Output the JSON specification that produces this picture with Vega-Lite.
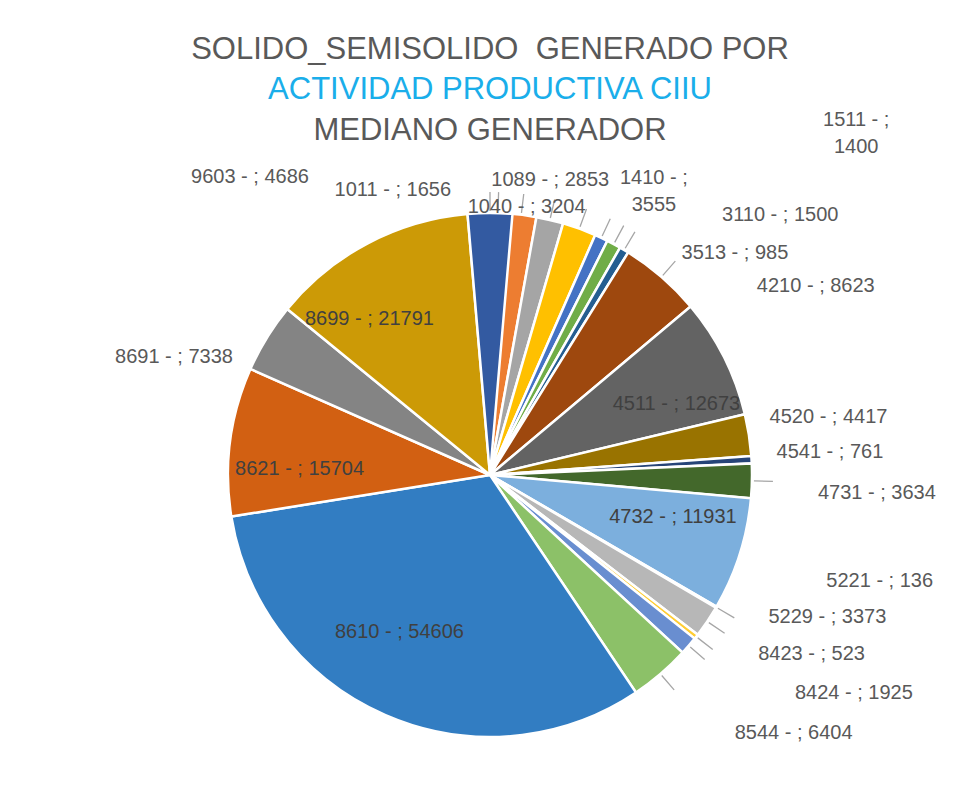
{
  "$schema": "https://vega.github.io/schema/vega-lite/v6.json",
  "background": "white",
  "padding": {"left": 20, "top": 34, "right": 3, "bottom": 0},
  "title": {
    "text": "SOLIDO_SEMISOLIDO\u00a0 GENERADO POR",
    "subtitle": "ACTIVIDAD PRODUCTIVA CIIU",
    "font": "Liberation Sans",
    "fontSize": 31,
    "fontWeight": "normal",
    "color": "#595959",
    "subtitleFont": "Liberation Sans",
    "subtitleFontSize": 31,
    "subtitleFontWeight": "normal",
    "subtitleColor": "#1AAEEA",
    "subtitlePadding": 9,
    "anchor": "middle",
    "offset": 4
  },
  "vconcat": [
    {
      "width": 940,
      "height": 600,
      "title": {
        "text": "MEDIANO GENERADOR",
        "font": "Liberation Sans",
        "fontSize": 31,
        "fontWeight": "normal",
        "color": "#595959",
        "anchor": "middle",
        "offset": -37
      },
      "data": {
        "values": [
          {"code": "1011", "value": 1656},
          {"code": "1040", "value": 3204},
          {"code": "1089", "value": 2853},
          {"code": "1410", "value": 3555},
          {"code": "1511", "value": 1400},
          {"code": "3110", "value": 1500},
          {"code": "3513", "value": 985},
          {"code": "4210", "value": 8623},
          {"code": "4511", "value": 12673},
          {"code": "4520", "value": 4417},
          {"code": "4541", "value": 761},
          {"code": "4731", "value": 3634},
          {"code": "4732", "value": 11931},
          {"code": "5221", "value": 136},
          {"code": "5229", "value": 3373},
          {"code": "8423", "value": 523},
          {"code": "8424", "value": 1925},
          {"code": "8544", "value": 6404},
          {"code": "8610", "value": 54606},
          {"code": "8621", "value": 15704},
          {"code": "8691", "value": 7338},
          {"code": "8699", "value": 21791},
          {"code": "9603", "value": 4686}
        ]
      },
      "transform": [
        {"stack": "value", "groupby": [], "sort": [{"field": "code", "order": "ascending"}], "as": ["v0", "v1"]},
        {"calculate": "(datum.v0 + datum.v1) / 2", "as": "mid"},
        {"calculate": "datum.code + ' - ; ' + datum.value", "as": "lbl"},
        {"calculate": "[datum.code + ' - ;', '' + datum.value]", "as": "lbl2"}
      ],
      "layer": [
        {
          "mark": {"type": "arc", "outerRadius": 262, "stroke": "white", "strokeWidth": 2.5},
          "encoding": {
            "theta": {"field": "v0", "type": "quantitative", "stack": null, "scale": {"zero": true, "nice": false}},
            "theta2": {"field": "v1"},
            "color": {
              "field": "code",
              "type": "nominal",
              "legend": null,
              "scale": {
                "domain": ["1011","1040","1089","1410","1511","3110","3513","4210","4511","4520","4541","4731","4732","5221","5229","8423","8424","8544","8610","8621","8691","8699","9603"],
                "range": ["#5B9BD5","#ED7D31","#A5A5A5","#FFC000","#4472C4","#70AD47","#255E91","#9E480E","#636363","#997300","#264478","#43682B","#7CAFDD","#F1975A","#B7B7B7","#FFCD33","#698ED0","#8CC168","#327DC2","#D26012","#848484","#CC9A06","#335AA1"]
              }
            }
          }
        },
        {
          "transform": [{"filter": {"field": "code", "oneOf": ["9603","1011","1040","1089","1410","1511","3110","3513","4210","4731","5221","5229","8423","8424","8544"]}}],
          "mark": {"type": "arc", "innerRadius": 264, "outerRadius": 283, "filled": false, "stroke": "#A6A6A6", "strokeWidth": 1.3},
          "encoding": {
            "theta": {"field": "mid", "type": "quantitative", "stack": null},
            "theta2": {"field": "mid"}
          }
        },
        {
          "transform": [{"filter": {"field": "code", "equal": "8699"}}],
          "mark": {"type": "text", "radius": 192, "align": "center", "baseline": "middle", "fill": "#404040", "dx": -31, "dy": 14},
          "encoding": {"theta": {"field": "mid", "type": "quantitative", "stack": null}, "text": {"field": "lbl"}}
        },
        {
          "transform": [{"filter": {"field": "code", "equal": "8621"}}],
          "mark": {"type": "text", "radius": 192, "align": "center", "baseline": "middle", "fill": "#404040", "dx": 0, "dy": 19},
          "encoding": {"theta": {"field": "mid", "type": "quantitative", "stack": null}, "text": {"field": "lbl"}}
        },
        {
          "transform": [{"filter": {"field": "code", "equal": "8610"}}],
          "mark": {"type": "text", "radius": 192, "align": "center", "baseline": "middle", "fill": "#404040", "dx": -14, "dy": -19},
          "encoding": {"theta": {"field": "mid", "type": "quantitative", "stack": null}, "text": {"field": "lbl"}}
        },
        {
          "transform": [{"filter": {"field": "code", "equal": "4511"}}],
          "mark": {"type": "text", "radius": 192, "align": "center", "baseline": "middle", "fill": "#404040", "dx": 15, "dy": 15},
          "encoding": {"theta": {"field": "mid", "type": "quantitative", "stack": null}, "text": {"field": "lbl"}}
        },
        {
          "transform": [{"filter": {"field": "code", "equal": "4732"}}],
          "mark": {"type": "text", "radius": 192, "align": "center", "baseline": "middle", "fill": "#404040", "dx": 0, "dy": -16},
          "encoding": {"theta": {"field": "mid", "type": "quantitative", "stack": null}, "text": {"field": "lbl"}}
        },
        {
          "transform": [{"filter": {"field": "code", "equal": "4210"}}],
          "mark": {"type": "text", "radius": 290, "align": "left", "baseline": "middle", "dx": 77, "dy": 30},
          "encoding": {"theta": {"field": "mid", "type": "quantitative", "stack": null}, "text": {"field": "lbl"}}
        },
        {
          "transform": [{"filter": {"field": "code", "equal": "3513"}}],
          "mark": {"type": "text", "radius": 290, "align": "left", "baseline": "middle", "dx": 43, "dy": 27},
          "encoding": {"theta": {"field": "mid", "type": "quantitative", "stack": null}, "text": {"field": "lbl"}}
        },
        {
          "transform": [{"filter": {"field": "code", "equal": "3110"}}],
          "mark": {"type": "text", "radius": 290, "align": "left", "baseline": "middle", "dx": 95, "dy": -4},
          "encoding": {"theta": {"field": "mid", "type": "quantitative", "stack": null}, "text": {"field": "lbl"}}
        },
        {
          "transform": [{"filter": {"field": "code", "equal": "1511"}}],
          "mark": {"type": "text", "radius": 290, "align": "center", "baseline": "middle", "dx": 243, "dy": -92, "lineHeight": 27},
          "encoding": {"theta": {"field": "mid", "type": "quantitative", "stack": null}, "text": {"field": "lbl2"}}
        },
        {
          "transform": [{"filter": {"field": "code", "equal": "1410"}}],
          "mark": {"type": "text", "radius": 290, "align": "center", "baseline": "middle", "dx": 65, "dy": -24, "lineHeight": 27},
          "encoding": {"theta": {"field": "mid", "type": "quantitative", "stack": null}, "text": {"field": "lbl2"}}
        },
        {
          "transform": [{"filter": {"field": "code", "equal": "1089"}}],
          "mark": {"type": "text", "radius": 290, "align": "center", "baseline": "middle", "dx": -6, "dy": -13},
          "encoding": {"theta": {"field": "mid", "type": "quantitative", "stack": null}, "text": {"field": "lbl"}}
        },
        {
          "transform": [{"filter": {"field": "code", "equal": "1040"}}],
          "mark": {"type": "text", "radius": 290, "align": "center", "baseline": "middle", "dx": 2, "dy": 20},
          "encoding": {"theta": {"field": "mid", "type": "quantitative", "stack": null}, "text": {"field": "lbl"}}
        },
        {
          "transform": [{"filter": {"field": "code", "equal": "1011"}}],
          "mark": {"type": "text", "radius": 290, "align": "center", "baseline": "middle", "dx": -106, "dy": 5},
          "encoding": {"theta": {"field": "mid", "type": "quantitative", "stack": null}, "text": {"field": "lbl"}}
        },
        {
          "transform": [{"filter": {"field": "code", "equal": "9603"}}],
          "mark": {"type": "text", "radius": 290, "align": "center", "baseline": "middle", "dx": -240, "dy": -8},
          "encoding": {"theta": {"field": "mid", "type": "quantitative", "stack": null}, "text": {"field": "lbl"}}
        },
        {
          "transform": [{"filter": {"field": "code", "equal": "4520"}}],
          "mark": {"type": "text", "radius": 290, "align": "left", "baseline": "middle", "dx": -7, "dy": -14},
          "encoding": {"theta": {"field": "mid", "type": "quantitative", "stack": null}, "text": {"field": "lbl"}}
        },
        {
          "transform": [{"filter": {"field": "code", "equal": "4541"}}],
          "mark": {"type": "text", "radius": 290, "align": "left", "baseline": "middle", "dx": -3, "dy": -6},
          "encoding": {"theta": {"field": "mid", "type": "quantitative", "stack": null}, "text": {"field": "lbl"}}
        },
        {
          "transform": [{"filter": {"field": "code", "equal": "4731"}}],
          "mark": {"type": "text", "radius": 290, "align": "left", "baseline": "middle", "dx": 38, "dy": 12},
          "encoding": {"theta": {"field": "mid", "type": "quantitative", "stack": null}, "text": {"field": "lbl"}}
        },
        {
          "transform": [{"filter": {"field": "code", "equal": "5221"}}],
          "mark": {"type": "text", "radius": 290, "align": "left", "baseline": "middle", "dx": 86, "dy": -40},
          "encoding": {"theta": {"field": "mid", "type": "quantitative", "stack": null}, "text": {"field": "lbl"}}
        },
        {
          "transform": [{"filter": {"field": "code", "equal": "5229"}}],
          "mark": {"type": "text", "radius": 290, "align": "left", "baseline": "middle", "dx": 38, "dy": -20},
          "encoding": {"theta": {"field": "mid", "type": "quantitative", "stack": null}, "text": {"field": "lbl"}}
        },
        {
          "transform": [{"filter": {"field": "code", "equal": "8423"}}],
          "mark": {"type": "text", "radius": 290, "align": "left", "baseline": "middle", "dx": 40, "dy": 0},
          "encoding": {"theta": {"field": "mid", "type": "quantitative", "stack": null}, "text": {"field": "lbl"}}
        },
        {
          "transform": [{"filter": {"field": "code", "equal": "8424"}}],
          "mark": {"type": "text", "radius": 290, "align": "left", "baseline": "middle", "dx": 85, "dy": 29},
          "encoding": {"theta": {"field": "mid", "type": "quantitative", "stack": null}, "text": {"field": "lbl"}}
        },
        {
          "transform": [{"filter": {"field": "code", "equal": "8544"}}],
          "mark": {"type": "text", "radius": 290, "align": "left", "baseline": "middle", "dx": 56, "dy": 38},
          "encoding": {"theta": {"field": "mid", "type": "quantitative", "stack": null}, "text": {"field": "lbl"}}
        },
        {
          "transform": [{"filter": {"field": "code", "equal": "8691"}}],
          "mark": {"type": "text", "radius": 290, "align": "right", "baseline": "middle", "dx": -10, "dy": 34},
          "encoding": {"theta": {"field": "mid", "type": "quantitative", "stack": null}, "text": {"field": "lbl"}}
        }
      ]
    }
  ],
  "config": {
    "view": {"stroke": null},
    "text": {"font": "Liberation Sans", "fontSize": 20, "color": "#595959"}
  }
}
